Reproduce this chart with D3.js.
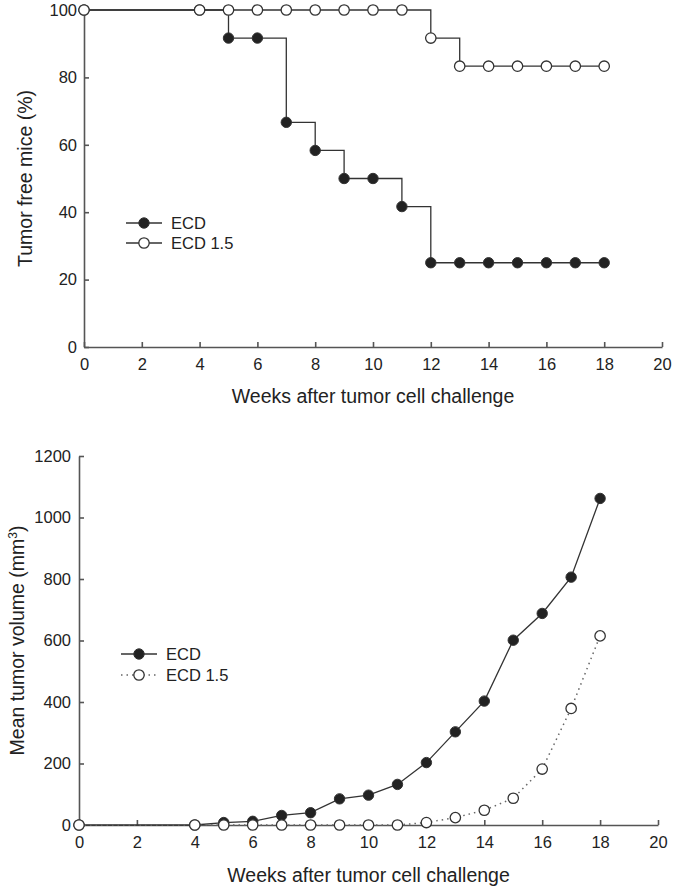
<!DOCTYPE html>
<html>
<head>
<meta charset="utf-8">
<script src="https://cdn.jsdelivr.net/npm/d3@7/dist/d3.min.js"></script>
<style>
	body { margin: 0; background: #fff; }
	text { font-family: "Liberation Sans", Arial, sans-serif; fill: #222; }
</style>
</head>
<body>
<div id="chart"></div>
<script>

// weeks after challenge where the mice were checked
const weeks = [0, 4, 5, 6, 7, 8, 9, 10, 11, 12, 13, 14, 15, 16, 17, 18];

// tumor free mice (%)
const freeECD   = [100, 100, 91.67, 91.67, 66.67, 58.33, 50, 50, 41.67, 25, 25, 25, 25, 25, 25, 25];
const freeECD15 = [100, 100, 100, 100, 100, 100, 100, 100, 100, 91.67, 83.33, 83.33, 83.33, 83.33, 83.33, 83.33];

// mean tumor volume (mm3)
const volECD   = [0, 0, 8, 12, 31, 40, 85, 97, 132, 203, 303, 403, 601, 688, 806, 1062];
const volECD15 = [0, 0, 0, 0, 0, 0, 0, 0, 0, 8, 24, 48, 87, 182, 379, 615];

const seriesNames = ["ECD", "ECD 1.5"];
const xTicks = [0, 2, 4, 6, 8, 10, 12, 14, 16, 18, 20];
const yTicksFree = [0, 20, 40, 60, 80, 100];
const yTicksVol = [0, 200, 400, 600, 800, 1000, 1200];


class WeekChart {

	// cfg holds placement, scales and the two series
	constructor(svg, cfg){
		this._svg = svg;
		this._cfg = cfg;
	}

	initVis() {
		let vis = this;
		let cfg = vis._cfg;

		vis.margin = cfg.margin;
		vis.width = cfg.width;
		vis.height = cfg.height;

		vis.g = vis._svg.append("g")
			.attr("transform", "translate(" + vis.margin.left + "," + vis.margin.top + ")");

		// Scales
		vis.x = d3.scaleLinear()
			.domain([0, 20])
			.range([0, vis.width]);

		vis.y = d3.scaleLinear()
			.domain([0, d3.max(cfg.yTicks)])
			.range([vis.height, 0]);

		// Axes, ticks point inwards
		vis.xAxis = d3.axisBottom(vis.x)
			.tickValues(xTicks)
			.tickSizeInner(-5)
			.tickSizeOuter(0)
			.tickPadding(11)
			.tickFormat(d3.format("d"));

		vis.yAxis = d3.axisLeft(vis.y)
			.tickValues(cfg.yTicks)
			.tickSizeInner(-5)
			.tickSizeOuter(0)
			.tickPadding(cfg.yPad)
			.tickFormat(d3.format("d"));

		let xg = vis.g.append("g")
			.attr("class", "x-axis axis")
			.attr("transform", "translate(0," + vis.height + ")")
			.call(vis.xAxis);

		let yg = vis.g.append("g")
			.attr("class", "y-axis axis")
			.call(vis.yAxis);

		[xg, yg].forEach(function(a) {
			a.selectAll("path, line").attr("stroke", "#555").attr("stroke-width", 1.6);
			a.selectAll("text").style("font-size", "16.5px").attr("fill", "#222")
				.style("font-family", "'Liberation Sans', Arial, sans-serif");
		});

		// Axis titles
		vis.g.append("text")
			.attr("x", vis.width / 2)
			.attr("y", vis.height + cfg.xTitleY)
			.attr("text-anchor", "middle")
			.style("font-size", "19.5px")
			.text("Weeks after tumor cell challenge");

		let yt = vis.g.append("text")
			.attr("transform", "translate(" + cfg.yTitleX + "," + (vis.height / 2) + ") rotate(-90)")
			.attr("text-anchor", "middle")
			.style("font-size", "19.5px")
			.text(cfg.yTitle);
		if (cfg.yTitleSup) {
			yt.append("tspan").attr("baseline-shift", "super").style("font-size", "12px").text(cfg.yTitleSup);
			yt.append("tspan").text(")");
		}

		// Lines
		vis.line = d3.line()
			.x(function(d, i) { return vis.x(weeks[i]); })
			.y(function(d) { return vis.y(d); })
			.curve(cfg.curve);

		vis.g.append("path")
			.datum(cfg.a)
			.attr("fill", "none")
			.attr("stroke", "#333")
			.attr("stroke-width", 1.3)
			.attr("d", vis.line);

		vis.g.append("path")
			.datum(cfg.b)
			.attr("fill", "none")
			.attr("stroke", cfg.dotted ? "#666" : "#333")
			.attr("stroke-width", cfg.dotted ? 1.5 : 1.3)
			.style("stroke-dasharray", cfg.dotted ? "1.5,4" : null)
			.attr("d", vis.line);

		// Markers, open ones on top
		vis.g.append("g").selectAll("circle")
			.data(cfg.a)
			.enter().append("circle")
			.attr("cx", function(d, i) { return vis.x(weeks[i]); })
			.attr("cy", function(d) { return vis.y(d); })
			.attr("r", 5.2)
			.attr("fill", "#222")
			.attr("stroke", "#333")
			.attr("stroke-width", 1);

		vis.g.append("g").selectAll("circle")
			.data(cfg.b)
			.enter().append("circle")
			.attr("cx", function(d, i) { return vis.x(weeks[i]); })
			.attr("cy", function(d) { return vis.y(d); })
			.attr("r", 5.2)
			.attr("fill", "#fff")
			.attr("stroke", "#333")
			.attr("stroke-width", 1.3);

		// Legend
		let lg = vis.g.append("g")
			.attr("transform", "translate(" + cfg.legend[0] + "," + cfg.legend[1] + ")");

		seriesNames.forEach(function(name, i) {
			let row = lg.append("g").attr("transform", "translate(0," + (i * cfg.legendStep) + ")");
			let open = i === 1;
			row.append("line")
				.attr("x1", 0).attr("x2", 36)
				.attr("stroke", open && cfg.dotted ? "#666" : "#333")
				.attr("stroke-width", 1.3)
				.style("stroke-dasharray", open && cfg.dotted ? "1.5,4" : null);
			row.append("circle")
				.attr("cx", 18)
				.attr("r", 5.2)
				.attr("fill", open ? "#fff" : "#222")
				.attr("stroke", "#333")
				.attr("stroke-width", open ? 1.3 : 1);
			row.append("text")
				.attr("x", 45)
				.attr("dy", "0.36em")
				.style("font-size", "16.5px")
				.text(name);
		});
	}
}

let svg = d3.select("#chart").append("svg")
	.attr("width", 675)
	.attr("height", 890);

let topChart = new WeekChart(svg, {
	margin: {top: 10, left: 84},
	width: 578, height: 337,
	yTicks: yTicksFree, yPad: 7,
	yTitle: "Tumor free mice (%)", yTitleX: -52,
	xTitleY: 56,
	curve: d3.curveStepAfter,
	a: freeECD, b: freeECD15,
	dotted: false,
	legend: [42, 213], legendStep: 20
});
topChart.initVis();

let bottomChart = new WeekChart(svg, {
	margin: {top: 456, left: 79},
	width: 579, height: 369,
	yTicks: yTicksVol, yPad: 8,
	yTitle: "Mean tumor volume (mm", yTitleSup: "3", yTitleX: -55,
	xTitleY: 57,
	curve: d3.curveLinear,
	a: volECD, b: volECD15,
	dotted: true,
	legend: [42, 198], legendStep: 21
});
bottomChart.initVis();

</script>
</body>
</html>
